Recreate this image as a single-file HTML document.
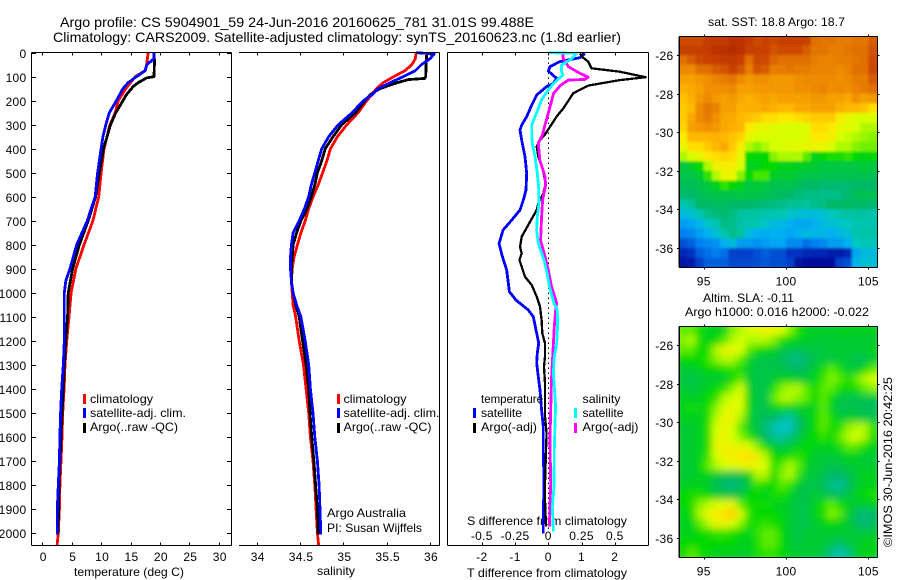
<!DOCTYPE html>
<html lang="en">
<head>
<meta charset="utf-8">
<title>Argo profile 5904901_59</title>
<style>
html,body{margin:0;padding:0;background:#fff;}
svg{display:block;position:absolute;left:0;top:0;}
text{font-family:"Liberation Sans",Arial,sans-serif;font-size:12px;fill:#000;}
.t14{font-size:14px;}
</style>
</head>
<body>
<svg id="chart" xmlns="http://www.w3.org/2000/svg" width="900" height="580" viewBox="0 0 900 580">
  <rect x="0" y="0" width="900" height="580" fill="#fff"/>
  <defs>
    <clipPath id="clipA"><rect x="679" y="36" width="198" height="232"/></clipPath>
    <clipPath id="clipB"><rect x="679" y="326" width="198" height="232"/></clipPath>
    <filter id="blurA" x="-5%" y="-5%" width="110%" height="110%"><feGaussianBlur stdDeviation="1.2"/></filter>
    <filter id="blurB" x="-5%" y="-5%" width="110%" height="110%"><feGaussianBlur stdDeviation="3.6"/></filter>
  </defs>
  <text class="t14" x="60" y="27" textLength="474" lengthAdjust="spacingAndGlyphs">Argo profile: CS 5904901_59 24-Jun-2016 20160625_781 31.01S 99.488E</text>
  <text class="t14" x="53" y="42" textLength="568" lengthAdjust="spacingAndGlyphs">Climatology: CARS2009. Satellite-adjusted climatology: synTS_20160623.nc (1.8d earlier)</text>

  <text x="74" y="576" textLength="110" lengthAdjust="spacingAndGlyphs">temperature (deg C)</text>
  <text x="317" y="575" textLength="38" lengthAdjust="spacingAndGlyphs">salinity</text>
  <text x="467" y="577" textLength="160" lengthAdjust="spacingAndGlyphs">T difference from climatology</text>
  <text x="467" y="525" textLength="160" lengthAdjust="spacingAndGlyphs">S difference from climatology</text>

  <text x="708" y="26" textLength="137" lengthAdjust="spacingAndGlyphs">sat. SST: 18.8 Argo: 18.7</text>
  <text x="703" y="302" textLength="91" lengthAdjust="spacingAndGlyphs">Altim. SLA: -0.11</text>
  <text x="685" y="316" textLength="184" lengthAdjust="spacingAndGlyphs">Argo h1000: 0.016 h2000: -0.022</text>
  <text transform="translate(892,547) rotate(-90)" x="0" y="0" textLength="170" lengthAdjust="spacingAndGlyphs">©IMOS 30-Jun-2016 20:42:25</text>

  <g>
    <rect x="83" y="394" width="3" height="10" fill="#f00"/>
    <text x="90" y="403" textLength="63" lengthAdjust="spacingAndGlyphs">climatology</text>
    <rect x="83" y="408" width="3" height="10" fill="#00f"/>
    <text x="90" y="417" textLength="96" lengthAdjust="spacingAndGlyphs">satellite-adj. clim.</text>
    <rect x="83" y="423" width="3" height="10" fill="#000"/>
    <text x="90" y="431" textLength="88" lengthAdjust="spacingAndGlyphs">Argo(..raw -QC)</text>
  </g>
  <g>
    <rect x="337" y="394" width="3" height="10" fill="#f00"/>
    <text x="343.5" y="403" textLength="63" lengthAdjust="spacingAndGlyphs">climatology</text>
    <rect x="337" y="408" width="3" height="10" fill="#00f"/>
    <text x="343.5" y="417" textLength="96" lengthAdjust="spacingAndGlyphs">satellite-adj. clim.</text>
    <rect x="337" y="423" width="3" height="10" fill="#000"/>
    <text x="343.5" y="431" textLength="88" lengthAdjust="spacingAndGlyphs">Argo(..raw -QC)</text>
  </g>
  <text x="327" y="517" textLength="79" lengthAdjust="spacingAndGlyphs">Argo Australia</text>
  <text x="327" y="532" textLength="95" lengthAdjust="spacingAndGlyphs">PI: Susan Wijffels</text>

  <g id="plots"></g>

  <g>
    <text x="481" y="403" textLength="62" lengthAdjust="spacingAndGlyphs">temperature</text>
    <rect x="473" y="408" width="3" height="10" fill="#00f"/>
    <text x="481" y="417" textLength="41" lengthAdjust="spacingAndGlyphs">satellite</text>
    <rect x="473" y="423" width="3" height="10" fill="#000"/>
    <text x="481" y="431" textLength="56" lengthAdjust="spacingAndGlyphs">Argo(-adj)</text>
    <text x="582.5" y="403" textLength="38" lengthAdjust="spacingAndGlyphs">salinity</text>
    <rect x="574" y="408" width="3" height="10" fill="#0ff"/>
    <text x="582.5" y="417" textLength="41" lengthAdjust="spacingAndGlyphs">satellite</text>
    <rect x="574" y="423" width="3" height="10" fill="#f0f"/>
    <text x="582.5" y="431" textLength="56" lengthAdjust="spacingAndGlyphs">Argo(-adj)</text>
  </g>
</svg>
<script>
// ---- axis tick data ----
var depthTicks = [0,100,200,300,400,500,600,700,800,900,1000,1100,1200,1300,1400,1500,1600,1700,1800,1900,2000];
var tempTicks = [0,5,10,15,20,25,30];
var salTicks = ['34','34.5','35','35.5','36'];
var dTTicks = [-2,-1,0,1,2];
var dSTicks = ['-0.5','-0.25','0','0.25','0.5'];
var lonTicks = [95,100,105];
var latTicks = [-26,-28,-30,-32,-34,-36];

// ---- temperature profiles ----
var tClimDepth = [0,50,75,100,150,200,250,300,400,500,600,650,700,800,900,1000,1100,1200,1300,1400,1500,1600,1700,1800,1900,2000,2054];
var tClimValue = [18.0,17.75,17.5,15.8,14.2,12.9,12.4,11.5,10.5,10.0,9.6,9.1,8.6,7.1,5.7,4.9,4.54,4.15,3.86,3.7,3.47,3.35,3.18,3.0,2.9,2.72,2.5];
var tSatDepth = [0,25,50,75,100,125,150,200,250,300,350,400,500,600,650,700,800,900,950,1000,1100,1200,1300,1400,1500,1600,1700,1800,1900,2005];
var tSatValue = [19.0,19.0,17.75,17.5,16.0,14.6,13.7,12.6,11.4,10.8,10.3,10.0,9.4,9.0,8.3,7.65,5.84,4.7,4.0,3.74,3.74,3.74,3.57,3.3,3.12,3.0,2.9,2.72,2.55,2.55];
var tArgoDepth = [25,100,105,125,140,175,200,250,300,400,500,600,700,800,900,1000,1100,1200,1300,1400,1500,1600,1700,1800,1900,2005];
var tArgoValue = [19.1,19.0,17.75,16.3,15.5,14.3,13.7,12.5,11.6,10.4,9.7,9.07,7.8,6.3,5.16,4.4,4.3,3.98,3.74,3.57,3.35,3.18,3.0,2.84,2.78,2.67];

// ---- salinity profiles ----
var sClimDepth = [0,25,50,75,100,125,150,175,200,250,300,350,400,450,500,550,600,650,700,750,800,850,900,950,1000,1050,1100,1200,1300,1400,1500,1600,1700,1800,1900,2000,2054];
var sClimValue = [35.84,35.83,35.79,35.71,35.58,35.46,35.38,35.33,35.27,35.17,35.04,34.93,34.85,34.81,34.76,34.71,34.65,34.6,34.56,34.51,34.47,34.43,34.41,34.4,34.41,34.42,34.45,34.49,34.54,34.57,34.6,34.62,34.65,34.67,34.685,34.7,34.715];
var sSatDepth = [0,5,25,50,75,100,125,150,175,200,250,300,350,400,450,500,550,600,650,700,750,800,850,900,950,1000,1050,1100,1200,1300,1400,1500,1600,1700,1800,1900,2005];
var sSatValue = [35.84,36.05,36.0,35.9,35.83,35.69,35.54,35.4,35.33,35.23,35.1,34.94,34.83,34.75,34.71,34.67,34.63,34.6,34.55,34.49,34.42,34.4,34.39,34.39,34.4,34.42,34.46,34.51,34.56,34.6,34.62,34.65,34.67,34.7,34.72,34.73,34.74];
var sArgoDepth = [10,100,107,112,125,150,175,200,250,300,350,400,450,500,550,600,650,700,750,800,900,950,1000,1050,1100,1200,1300,1400,1500,1600,1700,1800,1900,2005];
var sArgoValue = [35.96,35.95,35.94,35.75,35.62,35.42,35.31,35.25,35.14,34.98,34.88,34.79,34.75,34.7,34.67,34.63,34.58,34.51,34.46,34.42,34.4,34.4,34.42,34.45,34.49,34.53,34.57,34.6,34.615,34.635,34.66,34.68,34.7,34.71];

// ---- difference profiles ----
var dTSatDepth = [3,21,37,58,76,107,128,141,176,218,266,301,322,364,433,502,572,613,655,697,738,794,849,905,995,1030,1071,1099,1168,1210,1251,1293,1349,1404,1487,1557,1654,1793,1932,2001];
var dTSatValue = [1.1,0.95,0.35,0.05,0,0.25,0.15,-0.05,-0.35,-0.5,-0.65,-0.8,-0.85,-0.8,-0.7,-0.65,-0.67,-0.75,-0.85,-1.1,-1.36,-1.48,-1.38,-1.25,-1.17,-0.97,-0.6,-0.45,-0.35,-0.29,-0.33,-0.35,-0.3,-0.25,-0.2,-0.15,-0.15,-0.13,-0.15,-0.15];
var dTArgoDepth = [3,21,37,65,79,102,114,137,169,211,232,266,308,340,364,391,433,495,544,586,627,655,717,766,808,835,863,891,933,967,1016,1057,1113,1168,1210,1265,1307,1376,1446,1515,1585,1654,1793,1862,1973];
var dTArgoValue = [0.95,1.05,1.2,1.3,2.15,2.93,2.15,1.2,0.75,0.55,0.45,0.25,0.05,-0.1,-0.25,-0.35,-0.3,-0.15,-0.08,-0.15,-0.3,-0.35,-0.6,-0.8,-0.85,-0.8,-0.87,-0.8,-0.7,-0.5,-0.35,-0.25,-0.2,-0.18,-0.1,-0.1,-0.13,-0.1,-0.1,-0.1,-0.05,-0.07,-0.1,-0.1,-0.07];
var dSSatDepth = [0,3,10,26,51,79,93,128,162,197,253,302,340,377,433,502,558,627,683,738,794,863,919,974,1043,1071,1140,1210,1265,1335,1473,1557,1654,1807,1890,1994];
var dSSatValue = [0,0.21,0.2,0.175,0.1,0.1,0.11,0.04,-0.01,-0.05,-0.09,-0.125,-0.125,-0.12,-0.1,-0.083,-0.073,-0.07,-0.083,-0.088,-0.075,-0.033,-0.008,0.008,0.043,0.068,0.07,0.063,0.045,0.038,0.055,0.05,0.045,0.043,0.03,0.038];
var dSArgoDepth = [3,21,58,82,102,111,114,137,169,232,301,340,377,447,516,551,613,683,780,849,905,974,1043,1057,1140,1210,1349,1487,1612,1793,1973];
var dSArgoValue = [0.11,0.11,0.15,0.225,0.3,0.275,0.15,0.09,0.04,0.01,-0.025,-0.043,-0.075,-0.063,-0.025,-0.02,-0.043,-0.05,-0.058,-0.025,0,0.025,0.063,0.058,0.045,0.038,0.025,0.018,0.013,0.018,0.008];

// ---- map grids (colour-scale index, 0 = coldest/lowest, 100 = warmest/highest) ----
var sstGrid = [
[94,94,94,96,96,96,97,97,96,94,95,94,95,95,95,95,90,89,89,88,88,89,89,92],
[95,95,95,96,97,97,98,97,95,95,95,93,94,94,94,92,89,89,88,88,89,90,90,93],
[90,92,94,95,95,96,96,95,90,94,94,91,90,90,90,90,88,87,87,88,88,89,90,94],
[86,86,90,90,92,93,95,93,88,93,92,88,88,89,88,88,87,87,87,86,87,90,90,94],
[83,83,84,85,87,88,89,86,84,85,85,84,84,84,85,86,86,86,86,85,86,88,88,92],
[81,82,83,85,85,85,86,83,83,84,84,84,84,84,85,85,86,87,85,86,85,87,88,90],
[79,81,84,86,84,83,84,82,81,82,83,82,83,83,83,83,84,84,83,83,82,85,83,84],
[78,80,86,89,87,83,83,81,81,81,82,81,80,80,82,82,83,83,83,81,80,80,79,76],
[78,82,86,88,85,82,82,80,79,78,76,76,75,75,76,77,78,78,78,74,72,70,70,70],
[77,83,84,85,84,82,81,80,75,72,72,71,70,70,70,71,76,76,75,72,71,70,68,68],
[74,80,80,80,81,80,79,77,72,70,70,70,70,70,70,71,75,75,73,70,69,68,67,66],
[72,76,76,78,80,82,78,74,68,66,68,70,70,71,71,72,72,72,70,68,68,66,65,65],
[68,70,72,75,76,77,76,72,60,59,60,66,68,68,68,64,58,60,61,61,62,60,58,60],
[55,57,60,68,73,74,74,70,58,58,60,60,58,58,57,57,56,55,55,55,55,55,56,55],
[54,54,56,62,68,72,72,66,60,63,63,57,56,56,55,54,54,53,53,53,53,53,53,53],
[52,52,53,55,58,62,60,58,55,56,55,53,53,53,52,50,50,49,49,49,49,50,50,50],
[49,50,52,53,54,54,54,55,54,54,53,52,51,50,48,47,47,46,46,47,49,52,53,53],
[42,44,50,50,51,51,50,50,50,49,48,47,46,45,45,44,46,47,50,50,51,50,50,49],
[34,36,42,46,48,49,47,44,43,43,42,42,42,38,36,35,35,36,40,42,43,44,43,42],
[26,28,32,38,42,47,46,43,42,42,38,34,33,30,28,28,30,34,36,38,40,42,42,42],
[20,22,26,30,36,42,46,44,34,30,29,30,30,28,30,34,32,32,30,33,36,42,43,43],
[14,16,20,22,24,30,34,26,26,24,26,28,28,22,22,18,20,22,26,26,30,40,41,41],
[8,10,16,18,20,18,12,12,12,14,16,14,14,10,10,8,8,8,6,6,8,28,34,34],
[5,6,12,16,16,16,13,13,13,14,15,14,14,12,4,3,3,3,3,12,14,32,36,36]
];
var slaGrid = [
[64,64,61,58,58,58,66,68,70,71,73,72,70,66,61,58,57,57,57,58,58,58,58,58],
[66,68,61,58,60,64,68,70,68,68,68,66,61,60,58,57,56,56,56,56,56,56,56,56],
[64,64,60,61,68,72,72,70,64,61,60,58,55,54,52,54,55,55,56,56,56,56,56,58],
[60,60,60,62,66,68,68,64,58,55,54,54,52,48,47,50,54,55,55,56,55,53,53,56],
[56,56,58,60,60,61,62,61,56,54,54,54,54,52,50,53,56,61,64,61,56,56,60,64],
[55,54,55,56,56,57,60,64,56,54,54,56,58,58,56,56,58,62,66,64,61,64,68,70],
[56,55,56,58,60,62,66,70,58,54,54,61,66,68,68,64,60,64,64,61,60,61,64,66],
[58,57,58,60,62,68,70,71,60,54,54,64,68,68,66,64,60,64,60,55,54,54,54,54],
[58,61,58,61,66,70,72,70,60,54,54,58,60,58,58,58,58,64,58,53,53,53,52,52],
[58,58,58,61,68,72,72,68,58,53,52,50,46,44,52,56,60,64,61,56,56,56,54,54],
[56,56,58,61,70,72,70,64,58,54,48,42,38,40,50,56,60,64,61,61,66,68,68,62],
[56,56,58,61,70,72,70,66,62,56,50,46,44,48,54,58,60,62,60,64,68,70,68,61],
[56,56,58,61,72,73,72,72,70,66,60,56,54,56,58,60,58,58,58,61,64,64,61,58],
[56,56,58,62,70,73,74,75,76,73,68,60,60,61,62,60,56,56,56,56,58,58,56,56],
[56,56,60,64,68,70,70,72,72,72,70,61,64,68,64,58,56,55,54,54,56,56,56,56],
[56,56,58,58,56,54,52,54,58,68,68,60,66,68,62,56,55,53,50,50,52,56,58,58],
[57,58,58,56,52,50,48,50,56,62,61,60,64,62,56,54,54,52,46,44,50,56,58,58],
[60,61,61,60,56,55,53,55,60,60,58,61,61,58,54,53,56,54,52,52,54,58,60,61],
[60,61,66,68,70,70,72,64,61,60,61,58,58,56,54,54,58,61,64,61,58,56,56,58],
[58,60,68,72,74,76,78,70,62,60,60,60,58,56,54,54,58,61,66,64,56,52,47,50],
[58,58,64,68,72,72,70,66,61,61,62,61,60,56,54,54,56,58,60,58,56,52,48,52],
[58,58,60,61,62,62,61,60,58,62,64,64,60,56,54,56,56,56,56,56,56,56,55,56],
[60,60,60,60,60,60,60,58,58,61,64,64,60,56,55,56,56,56,54,52,54,56,58,58],
[60,64,61,60,58,58,58,57,57,61,62,62,60,57,56,56,56,54,46,42,46,56,58,58]
];

// ---- colour ramp ----
var rampColors = ['#00008c','#0030c0','#0080f0','#00b0f0','#00c8c0','#00b868','#00c840','#00d800','#70f000','#d8ff00','#ffe800','#ffb800','#f09000','#e07000','#c84000','#a82000'];
var rampIndex = [0,10,20,30,40,50,55,60,65,70,75,80,85,90,95,100];

var NS = 'http://www.w3.org/2000/svg';
var plots = document.getElementById('plots');

// ---- axis functions ----
function yDepth(d){ return 52.7 + 0.2402 * d; }
function xTemp(t){ return 42.3 + 5.88 * t; }
function xSal(s){ return 256.7 + 86.65 * (s - 34); }
function xDT(t){ return 548.3 + 33.25 * t; }
function xDS(s){ return 548.3 + 133 * s; }
function xLon(l){ return 703.7 + 16.47 * (l - 95); }
function yLatA(l){ return 55 - 19.3 * (l + 26); }
function yLatB(l){ return 345 - 19.3 * (l + 26); }

function hex2rgb(h){ return [parseInt(h.substr(1,2),16),parseInt(h.substr(3,2),16),parseInt(h.substr(5,2),16)]; }
function colourFor(v){
  var i = 0;
  while(i < rampIndex.length - 2 && v > rampIndex[i+1]) i++;
  var f = Math.max(0, Math.min(1, (v - rampIndex[i]) / (rampIndex[i+1] - rampIndex[i])));
  var a = hex2rgb(rampColors[i]), b = hex2rgb(rampColors[i+1]);
  return 'rgb(' + Math.round(a[0]+(b[0]-a[0])*f) + ',' + Math.round(a[1]+(b[1]-a[1])*f) + ',' + Math.round(a[2]+(b[2]-a[2])*f) + ')';
}

function drawLine(parent, name, x1, y1, x2, y2, opts){
  var el = document.createElementNS(NS, 'line');
  
  
  el.setAttribute('x1', x1); el.setAttribute('y1', y1);
  el.setAttribute('x2', x2); el.setAttribute('y2', y2);
  el.setAttribute('stroke', '#000');
  el.setAttribute('stroke-width', (opts && opts.w) || 1);
  el.setAttribute('shape-rendering', 'crispEdges');
  if(opts && opts.dash) el.setAttribute('stroke-dasharray', opts.dash);
  parent.appendChild(el);
  return el;
}
function drawText(parent, name, x, y, str, anchor){
  var el = document.createElementNS(NS, 'text');
  
  
  el.setAttribute('x', x);
  el.setAttribute('y', y);
  el.setAttribute('text-anchor', anchor || 'middle');
  el.setAttribute('letter-spacing', '0.3');
  el.textContent = str;
  parent.appendChild(el);
  return el;
}
function drawSeries(parent, name, depths, values, xFn, colour, width){
  var pts = depths.map(function(d, i){ return xFn(values[i]).toFixed(1) + ',' + yDepth(d).toFixed(1); }).join(' ');
  var el = document.createElementNS(NS, 'polyline');
  
  
  el.setAttribute('points', pts);
  el.setAttribute('fill', 'none');
  el.setAttribute('stroke', colour);
  el.setAttribute('stroke-width', width);
  el.setAttribute('stroke-linejoin', 'round');
  el.setAttribute('shape-rendering', 'crispEdges');
  parent.appendChild(el);
}
function makeGroup(name){
  var g = document.createElementNS(NS, 'g');
  
  
  plots.appendChild(g);
  return g;
}

var TOP = 52.5, BOT = 545.5;

// ---- panel 1: temperature ----
(function(){
  var g = makeGroup('temperature-panel');
  drawSeries(g, 'temperature-climatology-line', tClimDepth, tClimValue, xTemp, '#f00', 2.8);
  drawSeries(g, 'temperature-argo-line', tArgoDepth, tArgoValue, xTemp, '#000', 2.8);
  drawSeries(g, 'temperature-satellite-line', tSatDepth, tSatValue, xTemp, '#00f', 2.8);
  drawLine(g, 'frame-left', 31.5, TOP, 31.5, BOT);
  drawLine(g, 'frame-right', 231.5, TOP, 231.5, BOT);
  drawLine(g, 'frame-top', 31.5, TOP, 231.5, TOP);
  drawLine(g, 'frame-bottom', 31.5, BOT, 231.5, BOT);
  depthTicks.forEach(function(d){
    var y = Math.round(yDepth(d)) + 0.5;
    drawLine(g, 'depth-tick-left', 31.5, y, 36, y);
    drawLine(g, 'depth-tick-right', 227, y, 231.5, y);
    drawText(g, 'depth-tick-label', 26.5, Math.round(yDepth(d)) + 5, String(d), 'end');
  });
  tempTicks.forEach(function(t){
    var x = Math.round(xTemp(t)) + 0.5;
    drawLine(g, 'temperature-tick-top', x, TOP, x, TOP + 3);
    drawLine(g, 'temperature-tick-bottom', x, BOT - 3, x, BOT);
    drawText(g, 'temperature-tick-label', xTemp(t) + 1, 561, String(t));
  });
})();

// ---- panel 2: salinity ----
(function(){
  var g = makeGroup('salinity-panel');
  drawSeries(g, 'salinity-climatology-line', sClimDepth, sClimValue, xSal, '#f00', 2.8);
  drawSeries(g, 'salinity-argo-line', sArgoDepth, sArgoValue, xSal, '#000', 2.8);
  drawSeries(g, 'salinity-satellite-line', sSatDepth, sSatValue, xSal, '#00f', 2.8);
  drawLine(g, 'frame-right', 439.5, TOP, 439.5, BOT);
  drawLine(g, 'frame-top', 239, TOP, 439.5, TOP);
  drawLine(g, 'frame-bottom', 239, BOT, 439.5, BOT);
  salTicks.forEach(function(s){
    var v = parseFloat(s);
    var x = Math.round(xSal(v)) + 0.5;
    drawLine(g, 'salinity-tick-top', x, TOP, x, TOP + 3);
    drawLine(g, 'salinity-tick-bottom', x, BOT - 3, x, BOT);
    drawText(g, 'salinity-tick-label', xSal(v) + 1, 561, s);
  });
})();

// ---- panel 3: differences ----
(function(){
  var g = makeGroup('difference-panel');
  drawLine(g, 'zero-reference-line', 548.5, TOP, 548.5, 532, {dash:'1.5 3.5'});
  drawSeries(g, 'diff-t-satellite-line', dTSatDepth, dTSatValue, xDT, '#00f', 2.8);
  drawSeries(g, 'diff-t-argo-line', dTArgoDepth, dTArgoValue, xDT, '#000', 2.3);
  drawSeries(g, 'diff-s-argo-line', dSArgoDepth, dSArgoValue, xDS, '#f0f', 2.8);
  drawSeries(g, 'diff-s-satellite-line', dSSatDepth, dSSatValue, xDS, '#0ff', 2.8);
  drawLine(g, 'frame-left', 447.5, TOP, 447.5, BOT);
  drawLine(g, 'frame-right', 648.5, TOP, 648.5, BOT);
  drawLine(g, 'frame-top', 447.5, TOP, 648.5, TOP);
  drawLine(g, 'frame-bottom', 447.5, BOT, 648.5, BOT);
  dTTicks.forEach(function(t){
    var x = Math.round(xDT(t)) + 0.5;
    drawLine(g, 't-diff-tick-top', x, TOP, x, TOP + 3);
    drawLine(g, 't-diff-tick-bottom', x, BOT - 3, x, BOT);
    drawText(g, 't-diff-tick-label', xDT(t), 561, String(t));
  });
  dSTicks.forEach(function(s){
    drawText(g, 's-diff-tick-label', xDS(parseFloat(s)), 540, s);
  });
})();

// ---- maps ----
function drawMap(name, grid, clipId, filterId, yLat){
  var g = makeGroup(name);
  var cells = document.createElementNS(NS, 'g');
  
  
  cells.setAttribute('filter', 'url(#' + filterId + ')');
  var wrap = document.createElementNS(NS, 'g');
  wrap.setAttribute('clip-path', 'url(#' + clipId + ')');
  
  
  var left = xLon(93.5), right = xLon(105.5);
  var top = yLat(-25), bottom = yLat(-37);
  var cw = (right - left) / grid[0].length, ch = (bottom - top) / grid.length;
  grid.forEach(function(row, r){
    row.forEach(function(v, c){
      var el = document.createElementNS(NS, 'rect');
      
      
      el.setAttribute('x', (left + c * cw - 4 * (c === 0)).toFixed(2));
      el.setAttribute('y', (top + r * ch - 4 * (r === 0)).toFixed(2));
      el.setAttribute('width', (cw + 0.6 + 4 * (c === 0 || c === row.length - 1)).toFixed(2));
      el.setAttribute('height', (ch + 0.6 + 4 * (r === 0 || r === grid.length - 1)).toFixed(2));
      el.setAttribute('fill', colourFor(v));
      cells.appendChild(el);
    });
  });
  wrap.appendChild(cells);
  g.appendChild(wrap);
  var L = 679, R = 877.5, T = Math.round(top) + 0.5, B = Math.round(bottom) + 0.5;
  drawLine(g, 'map-frame-left', L, T, L, B, {w:1.5});
  drawLine(g, 'map-frame-right', R, T, R, B);
  drawLine(g, 'map-frame-top', L, T, R, T);
  drawLine(g, 'map-frame-bottom', L, B, R, B);
  lonTicks.forEach(function(l){
    var x = Math.round(xLon(l)) + 0.5;
    drawLine(g, 'lon-tick-top', x, T - 2, x, T);
    drawLine(g, 'lon-tick-bottom', x, B, x, B + 2);
    drawText(g, 'lon-tick-label', xLon(l), B + 18, String(l));
  });
  latTicks.forEach(function(l){
    var y = Math.round(yLat(l)) + 0.5;
    drawLine(g, 'lat-tick-left', L - 2, y, L, y);
    drawLine(g, 'lat-tick-right', R, y, R + 2, y);
    drawText(g, 'lat-tick-label', 673.5, y + 4.5, String(l), 'end');
  });
}
drawMap('sst-map', sstGrid, 'clipA', 'blurA', yLatA);
drawMap('sla-map', slaGrid, 'clipB', 'blurB', yLatB);
</script>
</body>
</html>
